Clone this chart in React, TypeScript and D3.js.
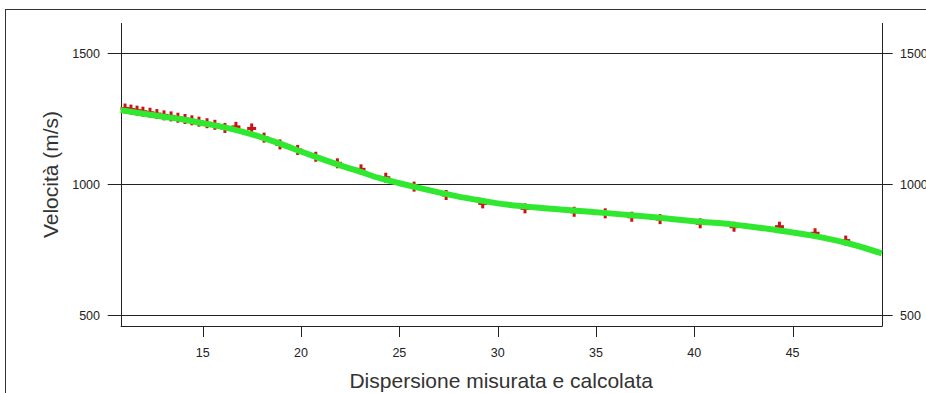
import React from "react";
import * as d3 from "d3";

// Measured points (dispersion data)
const measX = [11.05, 11.35, 11.66, 11.96, 12.32, 12.67, 13.03, 13.39, 13.74, 14.10, 14.45, 14.81, 15.22, 15.62, 16.13, 16.69, 17.49, 18.12, 18.93, 19.83, 20.75, 21.85, 23.05, 24.31, 25.75, 27.38, 29.24, 31.39, 33.89, 35.47, 36.82, 38.26, 40.30, 42.02, 44.33, 46.14, 47.70];
const measV = [1288, 1284, 1280, 1276, 1272, 1267, 1262, 1258, 1253, 1248, 1243, 1238, 1232, 1226, 1214, 1218, 1212, 1177, 1151, 1130, 1104, 1079, 1056, 1024, 990, 958, 926, 907, 894, 888, 875, 866, 850, 837, 837, 812, 784];

// Calculated curve
const calcX = [10.83, 12, 13, 14, 15, 16, 17, 18, 19, 20, 21, 22, 23, 24, 25, 26, 27, 28, 29, 30, 32, 34, 36, 38, 40, 42, 44, 46, 48, 49.53];
const calcV = [1282, 1268, 1257, 1246, 1232, 1218, 1200, 1178, 1152, 1124, 1097, 1071, 1047, 1022, 1003, 985, 968, 952, 939, 926, 910, 898, 886, 873, 858, 845, 826, 803, 770, 735];

const xTicks = [15, 20, 25, 30, 35, 40, 45];
const yTicks = [500, 1000, 1500];
const xTitle = "Dispersione misurata e calcolata";
const yTitle = "Velocità (m/s)";

export default function App() {
  const W = 926, H = 393;
  const left = 120.7, right = 881.7, top = 23, bottom = 326;
  const x = d3.scaleLinear().domain([10.83, 49.53]).range([left, right]);
  const y = d3.scaleLinear().domain([500, 1500]).range([315, 53]);
  const line = d3.line<number>().x((d, i) => x(calcX[i])).y((d) => y(d)).curve(d3.curveCatmullRom.alpha(0.5));
  const font = "'Liberation Sans', Arial, sans-serif";
  const ink = "#222";
  return (
    <svg width={W} height={H} style={{ position: "absolute", left: 0, top: 0, background: "#fff" }}>
      <rect x={0} y={0} width={W} height={H} fill="#fff" />
      <rect x={5.5} y={9.5} width={1000} height={500} fill="none" stroke="#333" strokeWidth={1} />
      {/* grid lines with outer ticks */}
      {yTicks.map((t) => (
        <g key={t}>
          <line x1={left - 13} x2={right + 11} y1={Math.round(y(t)) + 0.5} y2={Math.round(y(t)) + 0.5} stroke={ink} strokeWidth={1} />
          <text x={100} y={y(t) + 4.5} textAnchor="end" fontFamily={font} fontSize={12.5} fill={ink}>{t}</text>
          <text x={900} y={y(t) + 4.5} textAnchor="start" fontFamily={font} fontSize={12.5} fill={ink}>{t}</text>
        </g>
      ))}
      {/* axes */}
      <line x1={Math.round(left) + 0.5} x2={Math.round(left) + 0.5} y1={top} y2={bottom} stroke={ink} strokeWidth={1} />
      <line x1={Math.round(right) + 0.5} x2={Math.round(right) + 0.5} y1={top} y2={bottom} stroke={ink} strokeWidth={1} />
      <line x1={left} x2={right + 1} y1={bottom + 0.5} y2={bottom + 0.5} stroke={ink} strokeWidth={1} />
      {xTicks.map((t) => (
        <g key={t}>
          <line x1={Math.round(x(t)) + 0.5} x2={Math.round(x(t)) + 0.5} y1={bottom} y2={bottom + 11} stroke={ink} strokeWidth={1} />
          <text x={x(t)} y={357} textAnchor="middle" fontFamily={font} fontSize={12.5} fill={ink}>{t}</text>
        </g>
      ))}
      {/* measured markers */}
      {measX.map((mx, i) => {
        const cx = x(mx), cy = y(measV[i]);
        return (
          <g key={i} stroke="#cc1212" strokeWidth={3}>
            <line x1={cx - 4.5} x2={cx + 4.5} y1={cy} y2={cy} />
            <line x1={cx} x2={cx} y1={cy - 5} y2={cy + 5} />
          </g>
        );
      })}
      {/* calculated curve */}
      <path d={line(calcV) || ""} fill="none" stroke="#2fe82f" strokeWidth={6} strokeLinecap="butt" />
      {/* titles */}
      <text x={(left + right) / 2} y={388} textAnchor="middle" fontFamily={font} fontSize={21} fill="#333">{xTitle}</text>
      <text transform={`translate(58,${(top + bottom) / 2}) rotate(-90)`} textAnchor="middle" fontFamily={font} fontSize={21} fill="#333">{yTitle}</text>
    </svg>
  );
}
